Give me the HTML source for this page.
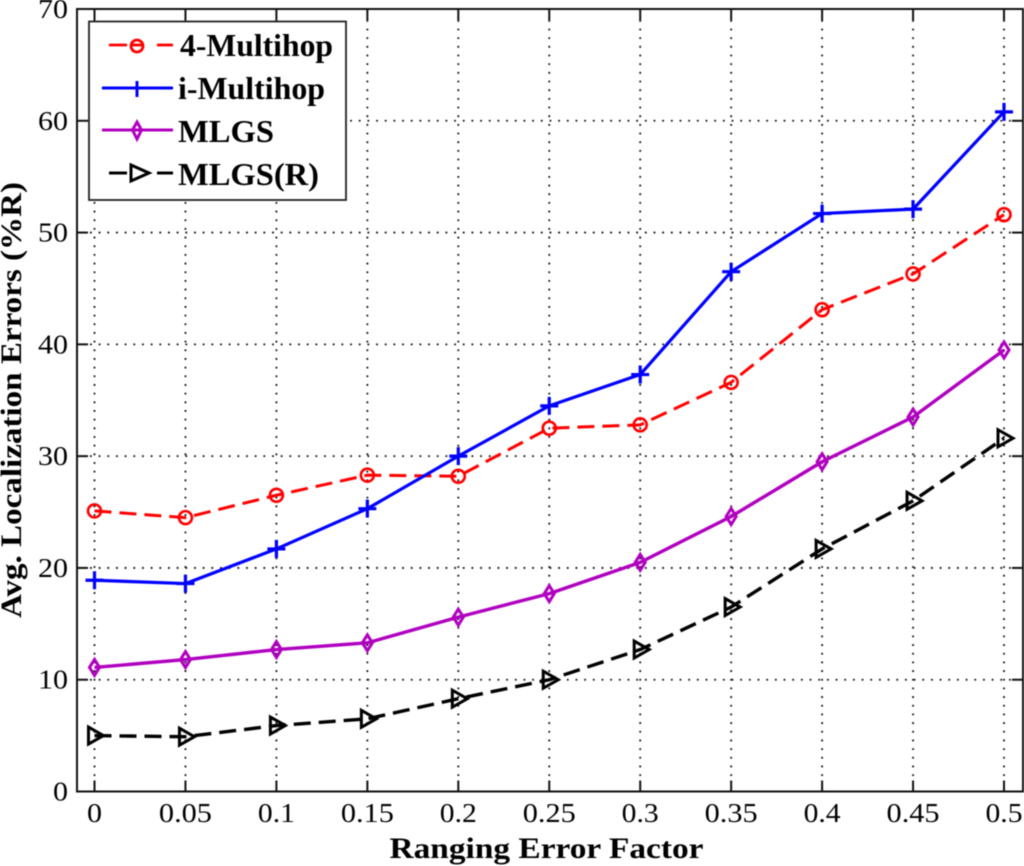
<!DOCTYPE html>
<html>
<head>
<meta charset="utf-8">
<title>Avg. Localization Errors vs Ranging Error Factor</title>
<style>
html,body{margin:0;padding:0;background:#fff;}
svg{display:block;filter:blur(0.45px);}
text{font-family:"Liberation Serif",serif;fill:#000;}
.tick{font-size:27px;}
.label{font-size:30px;font-weight:bold;}
.leg{font-size:32px;font-weight:bold;}
</style>
</head>
<body>
<svg id="chart" xmlns="http://www.w3.org/2000/svg" width="1024" height="866" viewBox="0 0 1024 866">
  <rect x="0" y="0" width="1024" height="866" fill="#fff"/>
  <g id="grid"></g>
  <g id="ticks"></g>
  <rect x="77" y="9" width="946" height="782.5" fill="none" stroke="#111" stroke-width="2"/>
  <g id="xlabels"></g>
  <g id="ylabels"></g>
  <g id="series"></g>
  <text class="label" x="546.5" y="858" text-anchor="middle" textLength="314" lengthAdjust="spacingAndGlyphs">Ranging Error Factor</text>
  <text class="label" transform="translate(21,618) rotate(-90)" x="0" y="0" textLength="436" lengthAdjust="spacingAndGlyphs">Avg. Localization Errors (%R)</text>
  <g>
    <rect x="89" y="21.5" width="257" height="178.5" fill="#fff" stroke="#222" stroke-width="1.8"/>
    <g>
      <line x1="109" y1="45" x2="127" y2="45" stroke="#f00" stroke-width="2.8"/>
      <line x1="157" y1="45" x2="173" y2="45" stroke="#f00" stroke-width="2.8"/>
      <line x1="131" y1="45" x2="143" y2="45" stroke="#f00" stroke-width="2.8"/>
      <circle cx="137" cy="46" r="6" fill="none" stroke="#f00" stroke-width="2.8"/>
      <text class="leg" x="180" y="56" textLength="153" lengthAdjust="spacingAndGlyphs">4-Multihop</text>
    </g>
    <g>
      <line x1="102" y1="88" x2="173" y2="88" stroke="#00f" stroke-width="3"/>
      <line x1="137" y1="81" x2="137" y2="97" stroke="#00f" stroke-width="3"/>
      <text class="leg" x="178" y="99" textLength="147" lengthAdjust="spacingAndGlyphs">i-Multihop</text>
    </g>
    <g>
      <line x1="102" y1="130" x2="173" y2="130" stroke="#b000c0" stroke-width="3"/>
      <polygon points="137,122 141.5,130 137,139 132.5,130" fill="none" stroke="#b000c0" stroke-width="3"/>
      <text class="leg" x="178" y="142" textLength="96" lengthAdjust="spacingAndGlyphs">MLGS</text>
    </g>
    <g>
      <line x1="109" y1="173" x2="127" y2="173" stroke="#000" stroke-width="3"/>
      <line x1="157" y1="173" x2="173" y2="173" stroke="#000" stroke-width="3"/>
      <polygon points="131,165 149,173 131,181" fill="none" stroke="#000" stroke-width="3"/>
      <text class="leg" x="178" y="185" textLength="141" lengthAdjust="spacingAndGlyphs">MLGS(R)</text>
    </g>
  </g>
</svg>
<script>
const categories = [0, 0.05, 0.1, 0.15, 0.2, 0.25, 0.3, 0.35, 0.4, 0.45, 0.5];
const xTickLabels = ['0', '0.05', '0.1', '0.15', '0.2', '0.25', '0.3', '0.35', '0.4', '0.45', '0.5'];
const yTicks = [0, 10, 20, 30, 40, 50, 60, 70];
const fourMultihop = [25.1, 24.5, 26.5, 28.3, 28.2, 32.5, 32.8, 36.6, 43.1, 46.3, 51.6];
const iMultihop = [18.9, 18.6, 21.7, 25.3, 30.0, 34.5, 37.3, 46.5, 51.7, 52.1, 60.8];
const mlgs = [11.1, 11.8, 12.7, 13.3, 15.6, 17.7, 20.5, 24.6, 29.5, 33.5, 39.5];
const mlgsR = [5.0, 4.9, 5.9, 6.5, 8.3, 10.0, 12.7, 16.5, 21.7, 26.0, 31.6];

const NS = 'http://www.w3.org/2000/svg';
const left = 77, right = 1023, top_ = 9, bottom = 791.5;
const xScale = v => 94.5 + (v / 0.5) * 909.5;
const yScale = v => bottom - (v / 70) * (bottom - top_);

function mk(tag, attrs, parent) {
  const el = document.createElementNS(NS, tag);
  for (const k in attrs) el.setAttribute(k, attrs[k]);
  parent.appendChild(el);
  return el;
}

const grid = document.getElementById('grid');
const ticks = document.getElementById('ticks');
const xlabels = document.getElementById('xlabels');
const ylabels = document.getElementById('ylabels');
const seriesG = document.getElementById('series');

categories.forEach((c, i) => {
  const x = xScale(c);
  const g = mk('line', {x1: x, y1: bottom - 15.5, x2: x, y2: top_ + 10, stroke: '#111', 'stroke-width': 1.8, 'stroke-dasharray': '1.8 6.87'}, grid);
  
  
  const t1 = mk('line', {x1: x, y1: bottom, x2: x, y2: bottom - 11, stroke: '#111', 'stroke-width': 2}, ticks);
  
  
  const t2 = mk('line', {x1: x, y1: top_, x2: x, y2: top_ + 11, stroke: '#111', 'stroke-width': 2}, ticks);
  
  
  const lab = mk('text', {class: 'tick', x: x, y: 822, 'text-anchor': 'middle'}, xlabels);
  
  
  lab.setAttribute('textLength', xTickLabels[i].length === 1 ? 15 : xTickLabels[i].length === 3 ? 37 : 53);
  lab.setAttribute('lengthAdjust', 'spacingAndGlyphs');
  lab.textContent = xTickLabels[i];
});

yTicks.forEach(v => {
  const y = yScale(v);
  if (v > 0 && v < 70) {
    const g = mk('line', {x1: left + 13, y1: y, x2: right - 10, y2: y, stroke: '#111', 'stroke-width': 1.8, 'stroke-dasharray': '1.8 6.87'}, grid);
    
    
  }
  const t1 = mk('line', {x1: left, y1: y, x2: left + 11, y2: y, stroke: '#111', 'stroke-width': 2}, ticks);
  
  
  const t2 = mk('line', {x1: right, y1: y, x2: right - 11, y2: y, stroke: '#111', 'stroke-width': 2}, ticks);
  
  
  const lab = mk('text', {class: 'tick', x: 68, y: y + 9, 'text-anchor': 'end'}, ylabels);
  
  
  lab.setAttribute('textLength', String(v).length === 1 ? 15 : 30);
  lab.setAttribute('lengthAdjust', 'spacingAndGlyphs');
  lab.textContent = String(v);
});

function marker(kind, x, y, color, parent) {
  if (kind === 'circle') {
    return mk('circle', {cx: x, cy: y, r: 6.5, fill: 'none', stroke: color, 'stroke-width': 2.6}, parent);
  }
  if (kind === 'plus') {
    return mk('path', {d: `M${x - 9} ${y}H${x + 9}M${x} ${y - 9}V${y + 9}`, fill: 'none', stroke: color, 'stroke-width': 3.2}, parent);
  }
  if (kind === 'diamond') {
    return mk('polygon', {points: `${x},${y - 8} ${x + 5},${y} ${x},${y + 8} ${x - 5},${y}`, fill: 'none', stroke: color, 'stroke-width': 3}, parent);
  }
  return mk('polygon', {points: `${x - 6},${y - 8.5} ${x + 9},${y} ${x - 6},${y + 8.5}`, fill: 'none', stroke: color, 'stroke-width': 3}, parent);
}

function drawSeries(values, name, color, width, dash, kind) {
  const g = mk('g', {}, seriesG);
  
  
  const pts = values.map((v, i) => xScale(categories[i]) + ',' + yScale(v)).join(' ');
  const line = mk('polyline', {points: pts, fill: 'none', stroke: color, 'stroke-width': width, 'stroke-linejoin': 'round'}, g);
  if (dash) line.setAttribute('stroke-dasharray', dash);
  
  
  values.forEach((v, i) => {
    const m = marker(kind, xScale(categories[i]), yScale(v), color, g);
    
    
  });
}

drawSeries(fourMultihop, 'series-4-multihop', '#f00', 3, '17 8', 'circle');
drawSeries(iMultihop, 'series-i-multihop', '#00f', 3.2, '', 'plus');
drawSeries(mlgs, 'series-mlgs', '#b000c0', 3.4, '', 'diamond');
drawSeries(mlgsR, 'series-mlgs-r', '#000', 3.4, '17 8', 'triangle');
</script>
</body>
</html>
